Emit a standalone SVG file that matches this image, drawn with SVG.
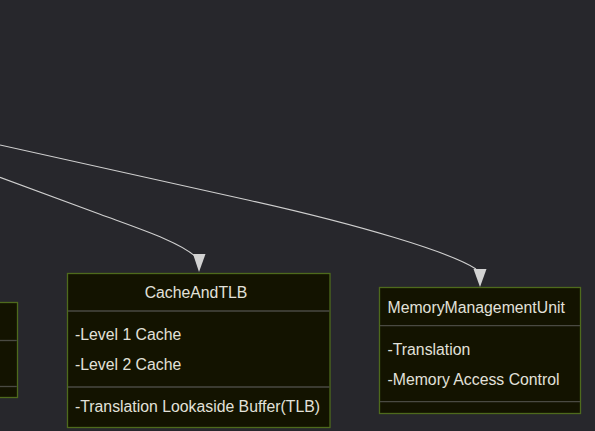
<svg xmlns="http://www.w3.org/2000/svg" width="595" height="431" viewBox="0 0 595 431">
<style>
.bg{fill:#27272c}
.box{fill:#131300;stroke:#4e6a1c;stroke-width:1.3}
.div{stroke:#4a4a42;stroke-width:1.3}
.edge{fill:none;stroke:#cfcfcf;stroke-width:1.1}
.arrowhead{fill:#d2d2d2;stroke:none}
text{font-family:"Liberation Sans",Arial,sans-serif;font-size:15.8px;fill:#e2e1da}
.title{text-anchor:middle}
</style>
<rect class="bg" x="0" y="0" width="595" height="431"/>
<g id="connectors">
<path class="edge" d="M0,145 L250,200.5 C360,225 450,252 476,269"/>
<path class="arrowhead" d="M473.5,269 L486.5,269 L480,287 Z"/>
<path class="edge" d="M0,177.3 L100,214.3 C140,229 180,242 196,257"/>
<path class="arrowhead" d="M193,254 L205.5,254 L199,272 Z"/>
</g>
<g id="node-left">
<rect class="box" x="-10" y="302.5" width="27.5" height="95"/>
<line class="div" x1="-10" y1="340.5" x2="16.8" y2="340.5"/>
<line class="div" x1="-10" y1="386.5" x2="16.8" y2="386.5"/>
</g>
<g id="node-CacheAndTLB">
<rect class="box" x="67.5" y="273.5" width="262.5" height="154"/>
<line class="div" x1="68" y1="311" x2="329.5" y2="311"/>
<line class="div" x1="68" y1="387" x2="329.5" y2="387"/>
<text class="title" x="196" y="298">CacheAndTLB</text>
<text x="75" y="340">-Level 1 Cache</text>
<text x="75" y="370">-Level 2 Cache</text>
<text x="75" y="412">-Translation Lookaside Buffer(TLB)</text>
</g>
<g id="node-MemoryManagementUnit">
<rect class="box" x="379.5" y="287.5" width="201" height="126"/>
<line class="div" x1="380" y1="325.7" x2="580" y2="325.7"/>
<line class="div" x1="380" y1="401.7" x2="580" y2="401.7"/>
<text x="387.5" y="313">MemoryManagementUnit</text>
<text x="387.5" y="354.5">-Translation</text>
<text x="387.5" y="384.5">-Memory Access Control</text>
</g>
</svg>
